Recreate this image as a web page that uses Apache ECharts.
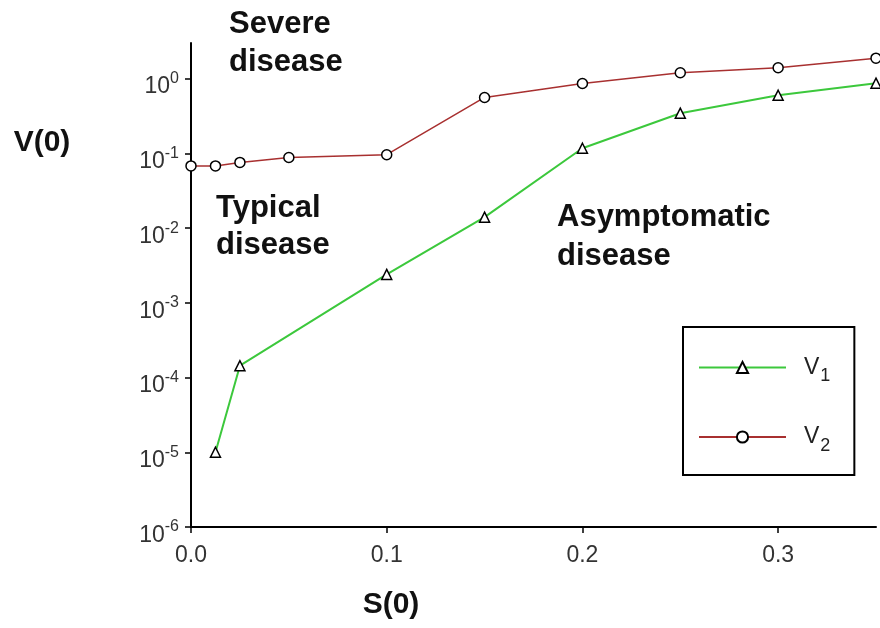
<!DOCTYPE html>
<html>
<head>
<meta charset="utf-8">
<script src="https://cdn.jsdelivr.net/npm/echarts@6/dist/echarts.min.js"></script>
<style>html,body{margin:0;padding:0;background:#fff;}#c{width:880px;height:628px;}</style>
</head>
<body>
<div id="c"></div>
<script>
// Data
const sV1 = [0.0125, 0.025, 0.1, 0.15, 0.2, 0.25, 0.3, 0.35];
const valV1 = [1.0e-5, 1.44e-4, 2.4e-3, 0.014, 0.117, 0.345, 0.60, 0.87];
const sV2 = [0, 0.0125, 0.025, 0.05, 0.1, 0.15, 0.2, 0.25, 0.3, 0.35];
const valV2 = [0.068, 0.068, 0.0757, 0.088, 0.096, 0.56, 0.86, 1.2, 1.4, 1.88];
const xTicks = [0, 0.1, 0.2, 0.3];
const yTicks = [1e-6, 1e-5, 1e-4, 1e-3, 1e-2, 1e-1, 1];
const seriesNames = ['V1', 'V2'];

const chart = echarts.init(document.getElementById('c'), null, {renderer: 'canvas'});
const FONT = 'Liberation Sans, Arial, sans-serif';

const option = {
  animation: false,
  backgroundColor: '#fff',
  grid: {left: 191, top: 43, right: 4, bottom: 101, containLabel: false},
  xAxis: {
    type: 'value', min: 0, max: 0.35,
    axisLine: {show: true, lineStyle: {color: '#000', width: 2}},
    axisTick: {show: true, inside: false, length: 6, lineStyle: {color: '#000', width: 1.5}, customValues: xTicks},
    axisLabel: {customValues: xTicks, margin: 17, fontSize: 23, color: '#333', fontFamily: FONT,
      formatter: v => Number(v).toFixed(1)},
    splitLine: {show: false}
  },
  yAxis: {
    type: 'log', logBase: 10, min: 1e-6, max: 3,
    axisLine: {show: true, lineStyle: {color: '#000', width: 2}},
    axisTick: {show: true, inside: false, length: 6, lineStyle: {color: '#000', width: 1.5}, customValues: yTicks},
    axisLabel: {customValues: yTicks, margin: 12, color: '#333', fontFamily: FONT,
      formatter: v => '{b|10}{s|' + Math.round(Math.log10(v)) + '}',
      rich: {
        b: {fontSize: 23, lineHeight: 24, verticalAlign: 'bottom', color: '#333', fontFamily: FONT},
        s: {fontSize: 16, lineHeight: 40, verticalAlign: 'middle', color: '#333', fontFamily: FONT}
      }
    },
    splitLine: {show: false}
  },
  legend: {
    data: seriesNames,
    orient: 'vertical',
    left: 683, top: 327,
    padding: [29, 24, 20, 15],
    itemWidth: 87, itemHeight: 14, itemGap: 40,
    borderColor: '#000', borderWidth: 2,
    formatter: name => '{v|V}{n|' + name.slice(1) + '}',
    textStyle: {
      color: '#222', fontFamily: FONT,
      rich: {
        v: {fontSize: 23, lineHeight: 36, verticalAlign: 'middle', padding: [0, 0, 0, 13], color: '#222', fontFamily: FONT},
        n: {fontSize: 18, lineHeight: 20, verticalAlign: 'bottom', padding: [0, 0, 0, 1], color: '#222', fontFamily: FONT}
      }
    }
  },
  series: [
    {
      name: 'V1', type: 'line',
      data: sV1.map((s, i) => [s, valV1[i]]),
      symbol: 'triangle', symbolSize: 10,
      lineStyle: {color: '#3cc83c', width: 2},
      itemStyle: {color: '#fff', borderColor: '#000', borderWidth: 1.5},
      z: 3
    },
    {
      name: 'V2', type: 'line',
      data: sV2.map((s, i) => [s, valV2[i]]),
      symbol: 'circle', symbolSize: 10,
      lineStyle: {color: '#a83030', width: 1.5},
      itemStyle: {color: '#fff', borderColor: '#000', borderWidth: 1.5},
      z: 3
    }
  ],
  graphic: [
    {type: 'text', left: 229, top: 5, style: {text: 'Severe\ndisease', font: 'bold 31px ' + FONT, lineHeight: 38, fill: '#111'}},
    {type: 'text', left: 216, top: 190, style: {text: 'Typical\ndisease', font: 'bold 31px ' + FONT, lineHeight: 37, fill: '#111'}},
    {type: 'text', left: 557, top: 198, style: {text: 'Asymptomatic\ndisease', font: 'bold 31px ' + FONT, lineHeight: 39, fill: '#111'}},
    {type: 'text', x: 42, y: 143, style: {text: 'V(0)', font: 'bold 30px ' + FONT, fill: '#111', align: 'center', verticalAlign: 'middle'}},
    {type: 'text', x: 391, y: 605, style: {text: 'S(0)', font: 'bold 30px ' + FONT, fill: '#111', align: 'center', verticalAlign: 'middle'}}
  ]
};
chart.setOption(option);
</script>
</body>
</html>
